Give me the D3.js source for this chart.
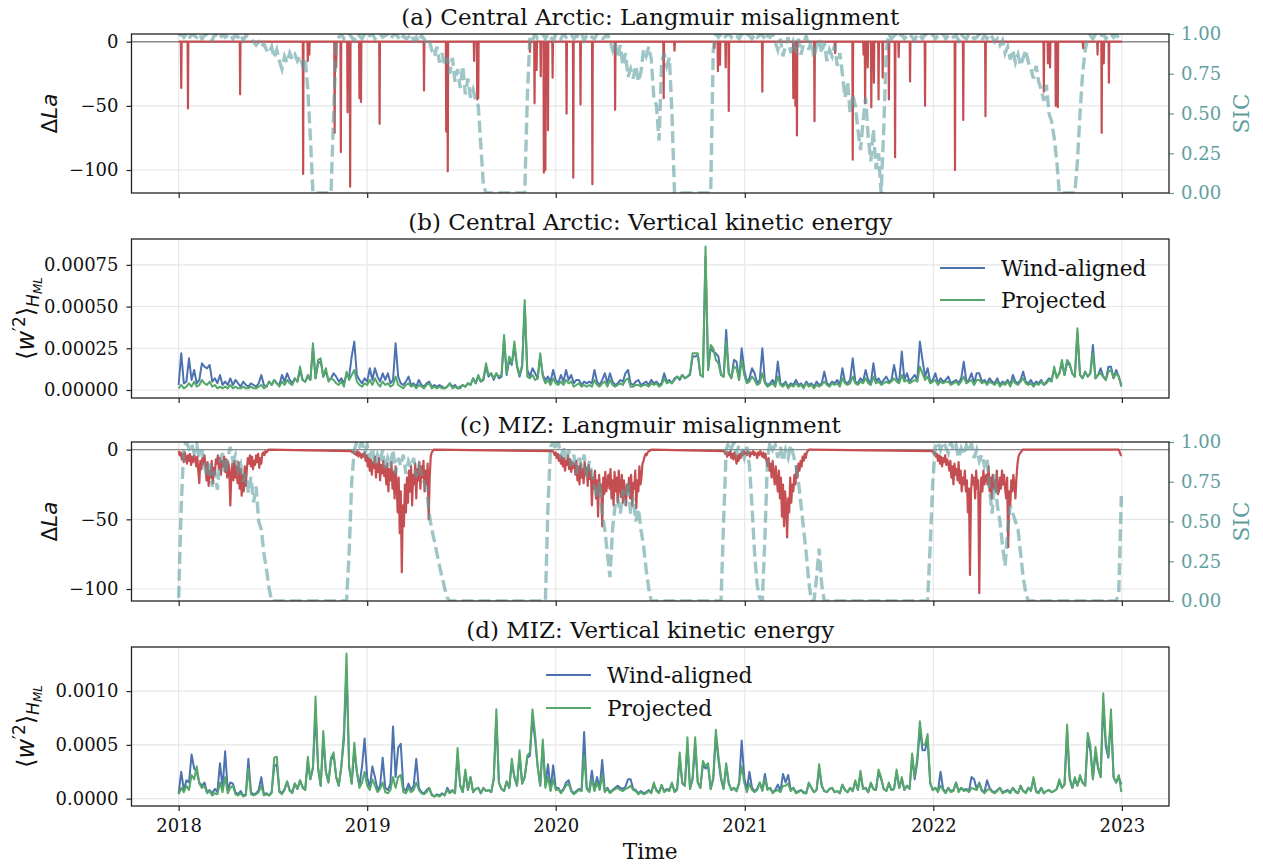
<!DOCTYPE html>
<html>
<head>
<meta charset="utf-8">
<script src="https://cdn.jsdelivr.net/npm/d3@7"></script>
<style>
  body { margin: 0; background: #fff; }
  svg text { font-family: "DejaVu Serif", serif; }
</style>
</head>
<body>
<svg id="chart" width="1263" height="866"></svg>
<script>
// ---- data ----
const yearTicks = [2018, 2019, 2020, 2021, 2022, 2023];
const STEP = 5; // days between samples of the sampled series, starting 2018-01-01

// (a) Central Arctic, Langmuir misalignment: sparse events [day since 2018-01-01, dLa]
const laCentralSpikes = [
  [5,-36],[18,-52],[119,-41],[241,-103],[250,-15],[253,-10],[302,-71],[305,-20],[314,-86],[327,-55],
  [332,-113],[350,-44],[353,-47],[389,-64],[475,-38],[518,-70],[521,-101],[572,-15],[578,-45],[580,-44],
  [680,-8],[689,-48],[693,-22],[701,-27],[707,-102],[710,-100],[715,-69],[724,-28],[751,-56],[764,-106],
  [778,-49],[801,-111],[845,-53],[939,-44],[960,-7],[1037,-5],[1044,-23],[1048,-18],[1059,-20],[1065,-54],
  [1130,-39],[1190,-44],[1194,-50],[1197,-73],[1231,-62],[1271,-9],[1305,-92],[1326,-10],[1329,-48],[1334,-20],
  [1341,-51],[1346,-32],[1355,-45],[1363,-28],[1375,-45],[1387,-90],[1394,-12],[1416,-31],[1445,-50],[1503,-100],
  [1519,-61],[1562,-58],[1675,-39],[1683,-17],[1687,-20],[1698,-50],[1702,-51],[1751,-5],[1779,-10],[1787,-71],
  [1791,-17],[1801,-32]
];

// (a) Central Arctic sea-ice concentration, every 5 days
const sicCentral = [
  0.99,1.0,0.98,1.0,0.97,1.0,0.99,0.98,1.0,0.97,0.99,1.0,0.98,0.96,1.0,0.99,0.97,1.0,0.98,0.99,
  1.0,0.97,0.99,0.98,1.0,0.96,0.99,0.98,0.97,0.95,0.93,0.95,0.92,0.94,0.9,0.88,0.92,0.85,0.9,0.83,
  0.78,0.86,0.82,0.88,0.84,0.87,0.83,0.86,0.8,0.85,0.65,0.35,0,0,0,0,0,0,0,0,
  0.5,0.95,0.98,1.0,0.97,0.99,1.0,0.98,0.96,1.0,0.99,0.97,1.0,0.98,0.99,1.0,0.97,0.99,1.0,0.98,
  0.99,1.0,0.97,0.99,1.0,0.98,0.96,0.99,0.97,0.98,1.0,0.96,0.98,0.95,0.99,0.97,0.94,0.96,0.9,0.86,
  0.92,0.82,0.88,0.8,0.85,0.75,0.85,0.7,0.78,0.66,0.8,0.62,0.72,0.6,0.65,0.58,0.55,0.3,0.05,0,
  0,0,0,0,0,0,0,0,0,0,0,0,0,0,0,0.6,0.98,0.96,1.0,0.97,
  0.99,1.0,0.97,1.0,0.98,0.96,1.0,0.99,0.97,1.0,0.98,0.99,1.0,0.97,0.99,0.98,1.0,0.96,0.99,1.0,
  0.98,0.97,1.0,0.99,0.97,0.98,1.0,0.96,0.9,0.95,0.85,0.93,0.8,0.88,0.73,0.78,0.72,0.8,0.7,0.76,
  0.9,0.86,0.92,0.84,0.6,0.55,0.33,0.82,0.88,0.8,0.85,0.5,0,0,0,0,0,0,0,0,
  0,0,0,0,0,0,0,0.9,1.0,0.98,1.0,0.97,0.99,1.0,0.98,1.0,0.99,0.97,1.0,0.98,
  1.0,0.99,0.97,1.0,0.98,0.99,1.0,0.96,0.99,0.98,1.0,0.95,0.9,0.97,0.86,0.93,0.98,0.88,0.95,0.9,
  0.97,0.87,0.94,0.99,0.9,0.96,0.85,0.92,0.97,0.88,0.95,0.83,0.9,0.86,0.93,0.8,0.88,0.75,0.6,0.7,
  0.5,0.62,0.55,0.4,0.27,0.45,0.6,0.35,0.2,0.4,0.15,0.25,0,0.4,0.9,1.0,0.97,0.99,1.0,0.98,
  1.0,0.97,0.99,1.0,0.98,0.96,1.0,0.99,0.97,1.0,0.98,0.99,1.0,0.97,0.99,0.98,1.0,0.97,0.99,1.0,
  0.98,0.99,0.96,1.0,0.98,0.97,1.0,0.99,0.97,0.98,1.0,0.96,0.99,0.97,1.0,0.98,0.95,0.97,0.93,0.96,
  0.88,0.92,0.84,0.9,0.82,0.87,0.8,0.85,0.9,0.82,0.78,0.72,0.8,0.7,0.65,0.58,0.68,0.5,0.45,0.35,
  0.2,0,0,0,0,0,0,0,0.2,0.5,0.75,0.9,0.97,0.99,0.97,1.0,0.98,0.99,1.0,0.97,
  0.99,1.0,0.98,1.0,0.97,0.99
];

// (b) Central Arctic <w'^2>, every 5 days, units of 1e-5
const wCentralWind = [
  3,22,4,5,19,6,12,4,6,16,14,13,15,5,7,4,9,3,5,3,
  7,3,6,4,2,5,3,2,4,3,2,4,9,3,2,5,3,6,4,3,
  9,5,10,6,4,7,5,12,6,5,8,6,25,7,16,17,8,11,6,7,
  10,8,5,7,4,9,8,20,29,9,6,4,7,5,13,6,13,8,5,10,
  6,10,4,6,28,8,4,3,5,8,3,4,2,6,3,2,4,5,2,3,
  2,3,2,1,2,4,2,3,1,2,3,2,4,3,7,4,8,5,6,14,
  8,10,6,10,7,8,30,9,18,15,26,14,8,14,50,12,8,13,10,7,
  20,9,6,8,5,12,6,4,9,5,12,6,9,4,6,6,3,5,4,5,
  4,12,5,3,6,10,4,10,5,3,4,6,5,10,12,4,3,5,6,3,
  4,5,3,6,4,5,3,4,10,5,6,4,7,8,6,9,7,8,9,20,
  20,21,9,8,80,12,25,23,22,20,9,8,36,10,7,18,17,6,25,12,
  5,7,13,10,4,6,25,5,3,4,6,3,17,4,3,5,2,4,3,6,
  3,4,2,5,3,4,2,5,3,4,11,4,3,5,4,6,3,13,5,4,
  6,19,5,4,7,5,12,6,4,16,5,7,4,6,8,5,6,15,7,5,
  23,6,10,5,7,9,6,29,18,8,13,5,6,10,4,7,5,6,8,4,
  5,6,4,7,17,5,6,10,4,10,10,5,6,4,7,5,4,7,3,5,
  4,6,3,9,5,4,6,11,5,4,6,3,5,4,6,3,5,7,6,12,
  8,10,16,9,16,15,10,8,34,9,7,11,8,10,27,7,9,13,8,6,
  14,14,7,12,8,3
];
const wCentralProj = [
  1,3,1,2,4,2,5,2,3,6,4,3,5,2,3,1,2,1,2,1,
  3,1,2,1,1,2,1,1,2,1,1,2,3,1,2,5,3,6,4,2,
  5,3,6,4,3,7,5,14,6,5,9,6,28,7,18,19,8,13,5,7,
  6,4,3,5,2,11,6,9,12,5,3,2,4,3,6,3,7,4,2,5,
  3,4,2,3,8,3,2,1,3,4,2,3,1,3,2,1,3,4,1,2,
  1,2,1,1,2,4,1,2,1,1,3,2,4,3,7,4,9,5,7,16,
  9,10,7,10,8,9,33,10,20,16,29,15,9,15,54,8,7,9,6,7,
  22,8,4,6,3,7,4,3,5,3,6,4,5,2,3,4,2,3,2,3,
  2,6,3,2,4,5,2,6,3,2,3,4,3,6,7,2,2,3,3,2,
  3,3,2,4,3,4,2,3,7,4,5,4,6,8,7,9,7,8,10,22,
  22,22,9,8,86,12,27,25,18,16,9,8,29,10,7,14,13,6,18,9,
  4,5,8,6,3,4,10,4,2,3,4,2,8,3,2,4,1,3,2,4,
  2,3,1,4,2,3,1,3,2,3,5,3,2,4,3,4,2,7,4,3,
  4,8,4,3,5,4,7,4,3,8,4,5,3,4,5,4,5,7,5,4,
  9,5,6,4,5,6,5,14,10,6,8,4,5,6,3,5,4,5,5,3,
  4,5,3,5,8,4,5,6,3,6,6,4,5,3,5,4,3,5,2,4,
  3,5,2,6,4,3,5,7,4,3,4,2,4,3,5,3,4,6,5,14,
  7,10,18,9,18,16,10,8,37,9,7,11,8,10,22,7,9,10,8,6,
  11,12,7,10,8,2
];

// (c) MIZ, Langmuir misalignment: ice-season episodes sampled every 2 days, zero in between
const laMizStart = [0, 334, 724, 1056, 1460];
const laMizSeason1 = [
  -1,-4,-2,-7,-3,-9,-2,-6,-10,-4,-8,-3,-11,-5,-9,-4,
  -6,-12,-5,-15,-24,-8,-14,-6,-10,-4,
  -12,-22,-9,-26,-15,-20,-8,-24,-13,-18,-7,
  -10,-4,-14,-6,-18,-8,-12,-5,-16,-7,-20,-9,-14,-40,
  -18,-10,-22,-8,-20,-12,-24,-9,
  -28,-14,-33,-18,-30,-12,-26,
  -14,-6,-10,-4,-12,-5,-14,-8,-11,-4,-9,-3,-13,-6,-10,
  -3,-2,-4,-1,-2,-1
];
const laMizSeason2 = [
  -1,-2,-1,-3,-2,-4,-1,-5,-2,-4,-6,-3,-5,-2,
  -8,-4,-12,-6,-15,-7,-18,-9,-13,-5,-20,-10,-16,-6,-22,-11,-17,-8,-19,
  -12,-25,-10,-30,-14,-22,-9,-28,-16,-35,-12,-26,-45,-20,
  -60,-30,-88,-40,-55,-25,-45,-20,-38,
  -15,-30,-12,-40,-18,-25,-10,-35,-14,-22,-9,-28,-12,
  -20,-8,-30,-15,-25,-10,-50,-20,-5,-2,-1
];
const laMizSeason3 = [
  -1,-2,-4,-2,-6,-3,-8,-4,-10,
  -5,-12,-6,-15,-8,-11,-4,-14,-7,-16,-9,-13,
  -10,-18,-8,-22,-12,-25,-10,-20,-14,-24,-9,-18,-13,-26,-11,-21,-15,
  -40,-20,-28,-15,-35,-22,-48,-18,-30,-25,-55,-20,-32,-16,-30,-24,
  -18,-28,-14,-35,-22,-40,-16,-30,-20,-38,-15,-26,-34,-18,-38,-22,-30,-40,-25,-30,
  -20,-35,-18,-40,-24,-28,-15,-42,-22,-30,-12,-25,-20,-10,-8,-5,-3,-4,-2,-1,-1
];
const laMizSeason4 = [
  -1,-3,-2,-5,-2,-4,-1,-6,-3,-7,-2,-5,-10,-4,-8,-3,-6,-2,-4,
  -1,-3,-2,-4,-1,-2,-5,-2,-3,-1,-4,-2,-3,-6,-2,-4,-1,-3,-5,-2,-6,-3,
  -8,-12,-6,-15,-10,-20,-8,-18,-25,-12,-22,-30,
  -15,-35,-20,-48,-25,-55,-30,-40,-63,-35,-45,-20,-38,-25,-30,
  -18,-25,-12,-20,-10,-15,-8,-12,-5,-8,-3,-6,-2,-1,0
];
const laMizSeason5 = [
  -1,-3,-2,-5,-3,-8,-4,-10,-5,-12,-6,-9,-4,-11,-7,
  -10,-15,-8,-20,-12,-25,-10,-18,-14,-22,-9,-24,-15,-30,
  -20,-25,-15,-30,-22,-45,-28,-90,-30,-18,-25,-20,-35,-15,-28,-22,-103,
  -35,-20,-30,-15,-25,-20,-18,-25,-12,-30,-20,-35,-18,-28,-22,-30,-15,-32,
  -30,-20,-28,-15,-25,-18,-28,-35,-20,-70,-30,-40,-22,-30,-18,-25,-35,-20,-10,-5,-3,-2,-1
];
const laMizEnd = [[1820, 0], [1824, -4], [1826, -4]];

// (c) MIZ sea-ice concentration, every 5 days
const sicMiz = [
  0.02,0.6,0.97,1.0,0.96,0.99,0.93,0.98,0.9,0.95,0.85,0.78,0.88,0.72,0.82,0.7,0.88,0.93,0.8,0.9,
  0.97,0.88,0.92,0.82,0.86,0.75,0.8,0.68,0.78,0.62,0.72,0.5,0.45,0.3,0.2,0.08,0,0,0,0,
  0,0,0,0,0,0,0,0,0,0,0,0,0,0,0,0,0,0,0,0,
  0,0,0,0,0,0,0.3,0.75,0.95,1.0,0.97,1.0,0.93,0.98,0.9,0.96,0.85,0.92,0.88,0.95,
  0.82,0.9,0.86,0.95,0.8,0.9,0.85,0.92,0.8,0.88,0.84,0.9,0.78,0.85,0.8,0.75,0.7,0.55,0.45,0.38,
  0.3,0.22,0.15,0.08,0.02,0,0,0,0,0,0,0,0,0,0,0,0,0,0,0,
  0,0,0,0,0,0,0,0,0,0,0,0,0,0,0,0,0,0,0,0,
  0,0,0,0.6,0.97,1.0,0.95,1.0,0.9,0.97,0.88,0.95,0.85,0.92,0.8,0.9,0.85,0.92,0.78,0.88,
  0.8,0.72,0.65,0.75,0.55,0.45,0.3,0.15,0.45,0.6,0.65,0.55,0.7,0.6,0.75,0.55,0.65,0.5,0.58,0.45,
  0.35,0.2,0.08,0,0,0,0,0,0,0,0,0,0,0,0,0,0,0,0,0,
  0,0,0,0,0,0,0,0,0,0,0,0.5,0.95,1.0,0.96,1.0,0.93,0.98,0.95,0.9,
  0.97,0.85,0.6,0.3,0.1,0.02,0,0.4,0.9,1.0,0.95,0.98,0.9,0.97,0.88,0.95,0.9,0.98,0.92,0.85,
  0.75,0.6,0.45,0.3,0.12,0,0,0.15,0.33,0.1,0,0,0,0,0,0,0,0,0,0,
  0,0,0,0,0,0,0,0,0,0,0,0,0,0,0,0,0,0,0,0,
  0,0,0,0,0,0,0,0,0,0,0,0.35,0.75,0.97,1.0,0.95,1.0,0.97,0.93,1.0,
  0.95,0.98,0.9,0.96,0.92,0.98,0.94,0.99,0.9,0.95,0.88,0.92,0.85,0.9,0.7,0.55,0.8,0.6,0.5,0.35,
  0.22,0.45,0.6,0.55,0.5,0.45,0.3,0.15,0.05,0,0,0,0,0,0,0,0,0,0,0,
  0,0,0,0,0,0,0,0,0,0,0,0,0,0,0,0,0,0,0,0,
  0,0,0,0,0.05,0.66
];

// (d) MIZ <w'^2>, every 5 days, units of 1e-5
const wMizWind = [
  5,25,8,17,15,41,28,25,15,12,15,6,8,5,9,6,33,10,44,8,
  15,14,6,4,7,3,4,37,6,4,5,8,20,4,5,3,6,30,32,7,
  5,9,16,8,6,14,9,17,11,8,34,18,28,80,28,12,55,25,15,36,
  40,20,12,30,55,120,30,14,45,25,12,30,56,20,10,30,20,8,12,38,
  10,8,14,67,20,47,51,10,7,14,8,12,37,10,6,5,8,10,4,2,
  4,3,5,3,10,6,8,5,40,12,6,24,8,20,6,9,10,5,10,7,
  8,6,18,75,15,9,7,16,10,33,20,12,40,14,20,38,40,75,55,30,
  12,50,12,32,8,31,10,10,6,9,15,17,8,5,7,9,8,62,10,7,
  26,8,20,9,36,7,10,6,8,10,12,10,9,11,18,18,9,8,5,7,
  5,6,8,6,13,8,6,12,7,9,8,14,7,9,38,14,12,50,9,18,
  50,15,10,32,28,30,9,18,58,36,18,9,30,14,8,10,7,14,54,20,
  8,25,10,7,9,15,8,23,9,10,6,8,13,7,23,15,22,8,10,6,
  7,8,6,5,14,10,6,8,28,12,7,6,9,10,6,7,5,13,8,6,
  10,7,16,8,23,9,10,6,14,9,8,25,18,9,7,14,8,9,25,10,
  18,8,12,9,38,18,34,65,45,45,55,14,8,10,7,25,9,6,10,7,
  8,15,7,10,8,9,7,20,18,9,15,8,6,17,10,7,6,8,10,6,
  7,8,6,10,7,5,12,7,6,10,8,18,7,6,10,5,7,8,6,7,
  9,16,10,13,62,18,10,18,12,20,15,12,55,45,18,43,28,20,88,48,
  38,75,20,15,20,13
];
const wMizProj = [
  4,10,6,12,8,22,18,30,14,10,12,5,7,3,5,4,15,6,20,5,
  10,12,4,3,5,2,3,28,4,3,4,6,12,3,4,3,5,38,39,6,
  4,8,16,7,5,14,9,17,10,8,39,18,30,95,28,12,63,25,15,38,
  43,20,12,30,63,135,30,14,52,25,10,15,25,12,8,18,12,6,9,15,
  6,5,8,20,10,20,22,6,5,10,6,8,15,8,5,4,6,10,3,2,
  3,2,4,3,8,5,7,5,47,12,6,27,8,20,6,9,10,5,10,7,
  8,6,18,83,15,9,7,16,10,37,20,12,45,14,20,40,43,83,60,30,
  12,55,10,20,7,18,8,9,5,8,12,14,7,4,6,8,7,40,9,6,
  18,7,15,8,22,6,9,5,7,9,10,8,7,9,10,12,8,7,4,6,
  4,5,7,5,15,7,5,13,6,8,7,15,6,8,43,15,12,57,9,20,
  57,15,10,35,30,33,9,20,64,40,20,9,33,15,8,10,7,15,30,15,
  6,14,8,6,8,15,7,18,8,10,5,7,8,6,12,12,14,7,10,5,
  6,8,5,5,15,10,6,8,32,12,7,6,9,10,6,7,5,13,8,6,
  10,7,17,8,26,9,10,6,15,9,8,27,20,9,7,15,8,9,27,10,
  20,8,12,9,42,20,38,72,50,50,60,15,8,10,6,12,8,5,10,6,
  7,15,6,10,7,8,6,10,9,8,14,7,5,8,9,6,5,7,10,5,
  6,7,5,10,6,5,12,7,5,10,7,20,6,5,10,5,7,8,6,7,
  9,18,10,13,69,20,10,20,12,22,15,12,61,50,18,48,30,20,98,53,
  40,83,20,15,22,6
];

// ---- layout ----
const RED = "#c44e52", BLUE = "#4c72b0", GREEN = "#55a868", TEAL = "cadetblue";
const X0 = 131.5, X1 = 1169;
const DAY = 864e5, T0 = Date.UTC(2018, 0, 1);
const day = d => new Date(T0 + d * DAY);
const yearDate = yr => new Date(Date.UTC(yr, 0, 1));
const TICK_FONT = "18px", LABEL_FONT = "21.7px", TITLE_FONT = "23px";

const svg = d3.select("#chart");
const x = d3.scaleUtc().domain([day(-91.3), day(1826 + 91.3)]).range([X0, X1]);

const sampled = (vals, k) => vals.map((v, i) => ({ t: day(i * STEP), v: v * k }));

function drawPanel(p) {
  const y = d3.scaleLinear().domain(p.yDomain).range([p.bottom, p.top]);
  const g = svg.append("g");
  const clipId = "clip-" + p.key;
  svg.append("clipPath").attr("id", clipId).append("rect")
    .attr("x", X0).attr("y", p.top).attr("width", X1 - X0).attr("height", p.bottom - p.top);

  // grid
  g.selectAll(".gx").data(yearTicks).join("line")
    .attr("x1", d => x(yearDate(d))).attr("x2", d => x(yearDate(d)))
    .attr("y1", p.top).attr("y2", p.bottom)
    .attr("stroke", "#e6e6e6").attr("stroke-width", 1.1);
  g.selectAll(".gy").data(p.yTicks).join("line")
    .attr("x1", X0).attr("x2", X1)
    .attr("y1", d => y(d)).attr("y2", d => y(d))
    .attr("stroke", "#e6e6e6").attr("stroke-width", 1.1);

  const plot = g.append("g").attr("clip-path", `url(#${clipId})`);
  const line = d3.line().x(d => x(d.t)).y(d => y(d.v));

  if (p.zeroLine) {
    plot.append("line").attr("x1", X0).attr("x2", X1).attr("y1", y(0)).attr("y2", y(0))
      .attr("stroke", "#8c8c8c").attr("stroke-width", 1.4);
  }
  p.series.forEach(s => {
    plot.append("path").datum(s.data).attr("d", line)
      .attr("fill", "none").attr("stroke", s.color).attr("stroke-width", s.width || 2)
      .attr("stroke-linejoin", "round");
  });

  if (p.sic) {
    const ys = d3.scaleLinear().domain([0, 1]).range([p.bottom, p.top]);
    const sline = d3.line().x(d => x(d.t)).y(d => ys(d.v));
    plot.append("path").datum(p.sic).attr("d", sline)
      .attr("fill", "none").attr("stroke", TEAL).attr("stroke-opacity", 0.6)
      .attr("stroke-width", 3.4).attr("stroke-dasharray", "12,5");
    const ra = svg.append("g").attr("transform", `translate(${X1},0)`)
      .call(d3.axisRight(ys).tickValues([0, 0.25, 0.5, 0.75, 1]).tickFormat(d3.format(".2f"))
        .tickSize(5).tickPadding(7));
    ra.select(".domain").remove();
    ra.selectAll("line").attr("stroke", TEAL).attr("stroke-width", 1.2);
    ra.selectAll("text").attr("fill", TEAL).style("font-size", TICK_FONT);
    svg.append("text").attr("transform", `translate(1249,${(p.top + p.bottom) / 2}) rotate(-90)`)
      .attr("text-anchor", "middle").attr("fill", TEAL).style("font-size", LABEL_FONT).text("SIC");
  }

  // frame
  svg.append("rect").attr("x", X0).attr("y", p.top).attr("width", X1 - X0).attr("height", p.bottom - p.top)
    .attr("fill", "none").attr("stroke", "#222").attr("stroke-width", 1.3);

  // axes
  const la = svg.append("g").attr("transform", `translate(${X0},0)`)
    .call(d3.axisLeft(y).tickValues(p.yTicks).tickFormat(p.fmt).tickSize(5).tickPadding(8));
  la.select(".domain").remove();
  la.selectAll("line").attr("stroke", "#222").attr("stroke-width", 1.2);
  la.selectAll("text").attr("fill", "#111").style("font-size", TICK_FONT);

  const ba = svg.append("g").attr("transform", `translate(0,${p.bottom})`)
    .call(d3.axisBottom(x).tickValues(yearTicks.map(yearDate))
      .tickFormat(p.xLabels ? d3.utcFormat("%Y") : () => "").tickSize(5).tickPadding(8));
  ba.select(".domain").remove();
  ba.selectAll("line").attr("stroke", "#222").attr("stroke-width", 1.2);
  ba.selectAll("text").attr("fill", "#111").style("font-size", TICK_FONT);

  // title
  svg.append("text").attr("x", (X0 + X1) / 2).attr("y", p.top - 9)
    .attr("text-anchor", "middle").attr("fill", "#111").style("font-size", TITLE_FONT).text(p.title);

  // y label (math style, sans)
  const yl = svg.append("text")
    .attr("transform", `translate(${p.labelX},${(p.top + p.bottom) / 2}) rotate(-90)`)
    .attr("text-anchor", "middle").attr("fill", "#111")
    .style("font-family", "DejaVu Sans").style("font-size", p.label === "la" ? "21.5px" : "24px");
  if (p.label === "la") {
    yl.append("tspan").text("Δ");
    yl.append("tspan").style("font-style", "italic").text("La");
  } else {
    yl.append("tspan").text("⟨");
    yl.append("tspan").style("font-style", "italic").text("w");
    yl.append("tspan").attr("dy", -9).style("font-size", "17px").text("′2");
    yl.append("tspan").attr("dy", 9).text("⟩");
    yl.append("tspan").attr("dy", 5).style("font-style", "italic").style("font-size", "17px").text("H");
    yl.append("tspan").attr("dy", 3).style("font-style", "italic").style("font-size", "12px").text("ML");
  }

  if (p.legend) {
    const L = p.legend;
    [["Wind-aligned", BLUE], ["Projected", GREEN]].forEach(([name, c], i) => {
      const yy = L.y + i * L.dy;
      svg.append("line").attr("x1", L.x).attr("x2", L.x + 45).attr("y1", yy).attr("y2", yy)
        .attr("stroke", c).attr("stroke-width", 2);
      svg.append("text").attr("x", L.x + 61).attr("y", yy).attr("dy", "0.35em")
        .attr("fill", "#111").style("font-size", LABEL_FONT).text(name);
    });
  }
}

// red series for (a) built from the sparse events, zero elsewhere
const laCentral = [{ t: day(0), v: 0 }];
laCentralSpikes.forEach(([d, v]) => {
  laCentral.push({ t: day(d - 0.7), v: 0 }, { t: day(d), v: v }, { t: day(d + 0.7), v: 0 });
});
laCentral.push({ t: day(1826), v: 0 });

// red series for (c): episodes at 2-day spacing joined by zero stretches
const laMiz = [];
[laMizSeason1, laMizSeason2, laMizSeason3, laMizSeason4, laMizSeason5].forEach((vals, k) => {
  vals.forEach((v, i) => laMiz.push({ t: day(laMizStart[k] + 2 * i), v: v }));
  laMiz.push({ t: day(laMizStart[k] + 2 * vals.length), v: 0 });
});
laMizEnd.forEach(([d, v]) => laMiz.push({ t: day(d), v: v }));

const fmtInt = d3.format("d");

drawPanel({
  key: "a", top: 34, bottom: 193, yDomain: [-117.9, 6.0], yTicks: [-100, -50, 0], fmt: fmtInt,
  title: "(a) Central Arctic: Langmuir misalignment", label: "la", labelX: 57, zeroLine: true,
  series: [{ data: laCentral, color: RED, width: 2.2 }],
  sic: sampled(sicCentral, 1)
});
drawPanel({
  key: "b", top: 239, bottom: 398, yDomain: [-4.8e-5, 90.5e-5], yTicks: [0, 25e-5, 50e-5, 75e-5],
  fmt: d3.format(".5f"), title: "(b) Central Arctic: Vertical kinetic energy", label: "w", labelX: 34,
  series: [
    { data: sampled(wCentralWind, 1e-5), color: BLUE },
    { data: sampled(wCentralProj, 1e-5), color: GREEN }
  ],
  legend: { x: 940, y: 268, dy: 32 }
});
drawPanel({
  key: "c", top: 442, bottom: 601, yDomain: [-108.6, 5.5], yTicks: [-100, -50, 0], fmt: fmtInt,
  title: "(c) MIZ: Langmuir misalignment", label: "la", labelX: 57, zeroLine: true,
  series: [{ data: laMiz, color: RED, width: 2.2 }],
  sic: sampled(sicMiz, 1)
});
drawPanel({
  key: "d", top: 647, bottom: 806, yDomain: [-6.85e-5, 141e-5], yTicks: [0, 50e-5, 100e-5],
  fmt: d3.format(".4f"), title: "(d) MIZ: Vertical kinetic energy", label: "w", labelX: 34, xLabels: true,
  series: [
    { data: sampled(wMizWind, 1e-5), color: BLUE },
    { data: sampled(wMizProj, 1e-5), color: GREEN }
  ],
  legend: { x: 546, y: 675, dy: 33 }
});

svg.append("text").attr("x", (X0 + X1) / 2).attr("y", 859).attr("text-anchor", "middle")
  .attr("fill", "#111").style("font-size", LABEL_FONT).text("Time");
</script>
</body>
</html>
